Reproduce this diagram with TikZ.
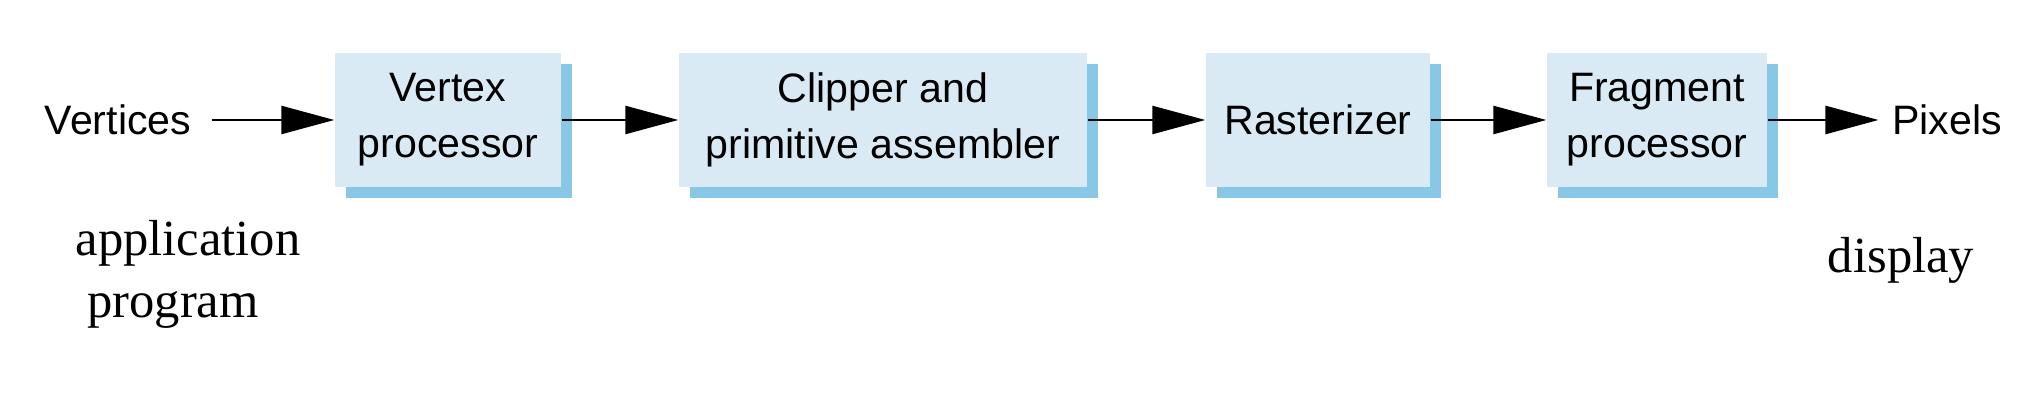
\documentclass[tikz,border=0pt]{standalone}
\usepackage{fontspec}
\setmainfont{Liberation Serif}
\newfontfamily\stagefont{Liberation Sans}
\usetikzlibrary{arrows.meta,shadows}
\definecolor{stagefill}{RGB}{218,234,245}
\definecolor{stageshadow}{RGB}{136,199,230}

\begin{document}
\begin{tikzpicture}[
        stage/.style={rectangle, fill=stagefill, minimum height=1.34cm, inner sep=0pt, align=center,
            font=\stagefont\fontsize{11.7pt}{16pt}\selectfont,
            general shadow={fill=stageshadow, shadow xshift=0.11cm, shadow yshift=-0.11cm}},
        word/.style={inner ysep=0pt, font=\stagefont\fontsize{11.7pt}{16pt}\selectfont},
        note/.style={inner sep=0pt, align=center, font=\fontsize{14.4pt}{17.6pt}\selectfont},
        flow/.style={-{Triangle[length=5.3mm, width=2.8mm]}, line width=0.7pt}
    ]
        \useasboundingbox (0, 0) rectangle (20.42, -4.08);

        \node[word, inner xsep=0.2cm] at (1.18, -1.2)(vert){Vertices};
        \node[stage, minimum width=2.26cm] at (4.48, -1.2)(vp){Vertex\\processor};
        \node[stage, minimum width=4.08cm] at (8.83, -1.2)(cpa){Clipper and\\primitive assembler};
        \node[stage, minimum width=2.24cm] at (13.18, -1.2)(ras){Rasterizer};
        \node[stage, minimum width=2.20cm] at (16.57, -1.2)(fp){Fragment\\processor};
        \node[word, inner xsep=0.13cm] at (19.47, -1.2)(pix){Pixels};

        \node[note] at (1.88, -2.74)(app){application\\\hspace*{-0.3cm}program};
        \node[note] at (19.01, -2.60)(disp){display};

        \path[flow]
        (vert)edge(vp)
        (vp)edge(cpa)
        (cpa)edge(ras)
        (ras)edge(fp)
        (fp)edge(pix)
        ;
    \end{tikzpicture}
\end{document}
